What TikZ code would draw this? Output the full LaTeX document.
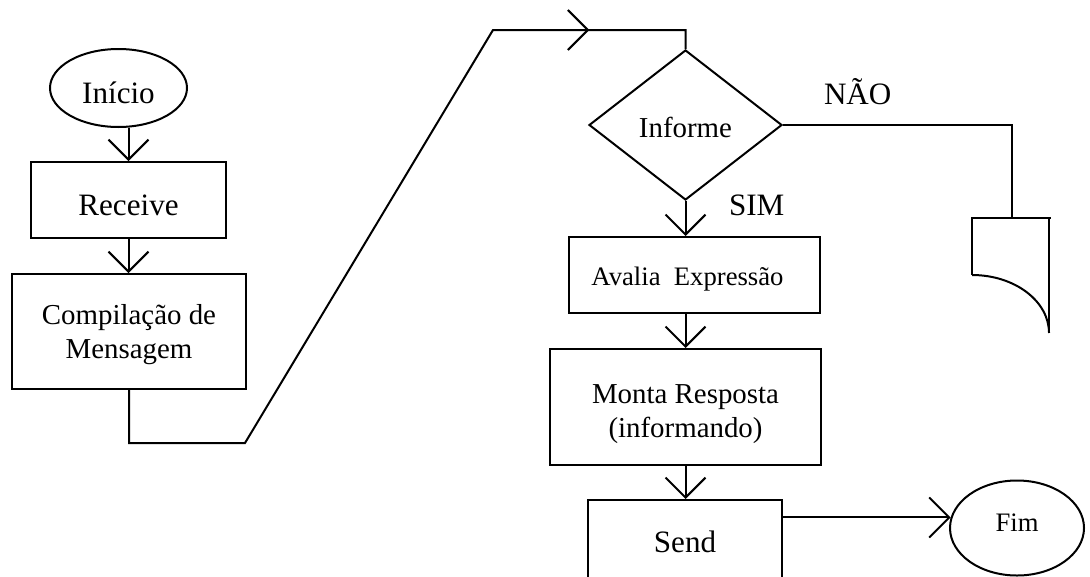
\documentclass[tikz,border=0pt]{standalone}
\usepackage{fontspec}
\setmainfont{Liberation Serif}
\usetikzlibrary{arrows.meta,shapes.geometric,calc}
\begin{document}
\begin{tikzpicture}[x=0.45pt,y=-0.45pt,line width=0.9pt,
  box/.style={draw,rectangle,inner sep=0pt},
  term/.style={draw,ellipse,inner sep=0pt},
  decision/.style={draw,diamond,inner sep=0pt},
  flow/.style={-{Straight Barb[length=9pt,width=18pt]}},
  big/.style={font=\fontsize{14pt}{16pt}\selectfont},
  mid/.style={font=\fontsize{13pt}{15pt}\selectfont},
  small/.style={font=\fontsize{12pt}{14pt}\selectfont},
  tag/.style={big,anchor=base west,inner sep=0pt}]

\useasboundingbox (0,0) rectangle (1090,576);
\clip (0,0) rectangle (1090,576);

% left column
\node[term,big,minimum width=61.65pt,minimum height=35.1pt,
      text height=13.5pt,text depth=0pt] (inicio) at (118.5,88) {Início};
\node[box,big,minimum width=87.75pt,minimum height=34.2pt,
      text height=13.5pt,text depth=0pt] (receive) at (128.5,200) {Receive};
\node[box,mid,align=center,minimum width=105.3pt,minimum height=51.75pt,
      text height=23.85pt,text depth=0pt] (compil) at (129,331.5)
      {Compilação de\\Mensagem};

% right column
\node[decision,mid,shape aspect=1.287,minimum width=86.85pt,minimum height=67.5pt,
      text height=10.8pt,text depth=0pt] (informe) at (685.5,125) {Informe};
\node[box,small,minimum width=112.95pt,minimum height=34.2pt,
      text height=9pt,text depth=0pt] (avalia) at (694.5,275)
      {Avalia\ \ Expressão\hspace*{6.3pt}};
\node[box,mid,align=center,minimum width=121.95pt,minimum height=52.2pt,
      text height=27pt,text depth=0pt] (monta) at (685.5,407)
      {Monta Resposta\\(informando)};
\node[box,big,minimum width=87.3pt,minimum height=40.5pt,
      text height=6.3pt,text depth=0pt] (send) at (685,545) {Send};
\node[term,small,minimum width=60.3pt,minimum height=42.75pt,
      text height=2.7pt,text depth=0pt] (fim) at (1017,528) {Fim};

% branch labels
\node[tag] (nao) at (823,104) {NÃO};
\node[tag] (sim) at (728,215) {SIM};

% document symbol on the NÃO branch
\coordinate (doctop) at (1012,218);
\draw (972,275) -- (972,218) -- (1051,218);
\draw (1049,218) -- (1049,333);
\draw (972,275) arc[start angle=270,end angle=360,x radius=77,y radius=58];

% connectors
\draw[flow] (receive.north |- inicio.south) -- (receive.north);
\draw[flow] (receive.south) -- (receive.south |- compil.north);

\coordinate (k1) at (245,443);
\coordinate (k2) at (493,30);
\draw (compil.south) -- (compil.south |- k1) -- (k1) -- (k2)
      -- (k2 -| informe.north) -- (informe.north);
\draw[flow] (k2) -- ($(k2)!0.5!(k2 -| informe.north)$);

\draw (informe.east) -- (doctop |- informe.east) -- (doctop);
\draw[flow] (informe.south) -- (informe.south |- avalia.north);
\draw[flow] (avalia.south -| monta.north) -- (monta.north);
\draw[flow] (monta.south) -- (monta.south |- send.north);
\draw[flow] (send.east |- fim.171) -- (fim.171);
\end{tikzpicture}
\end{document}
